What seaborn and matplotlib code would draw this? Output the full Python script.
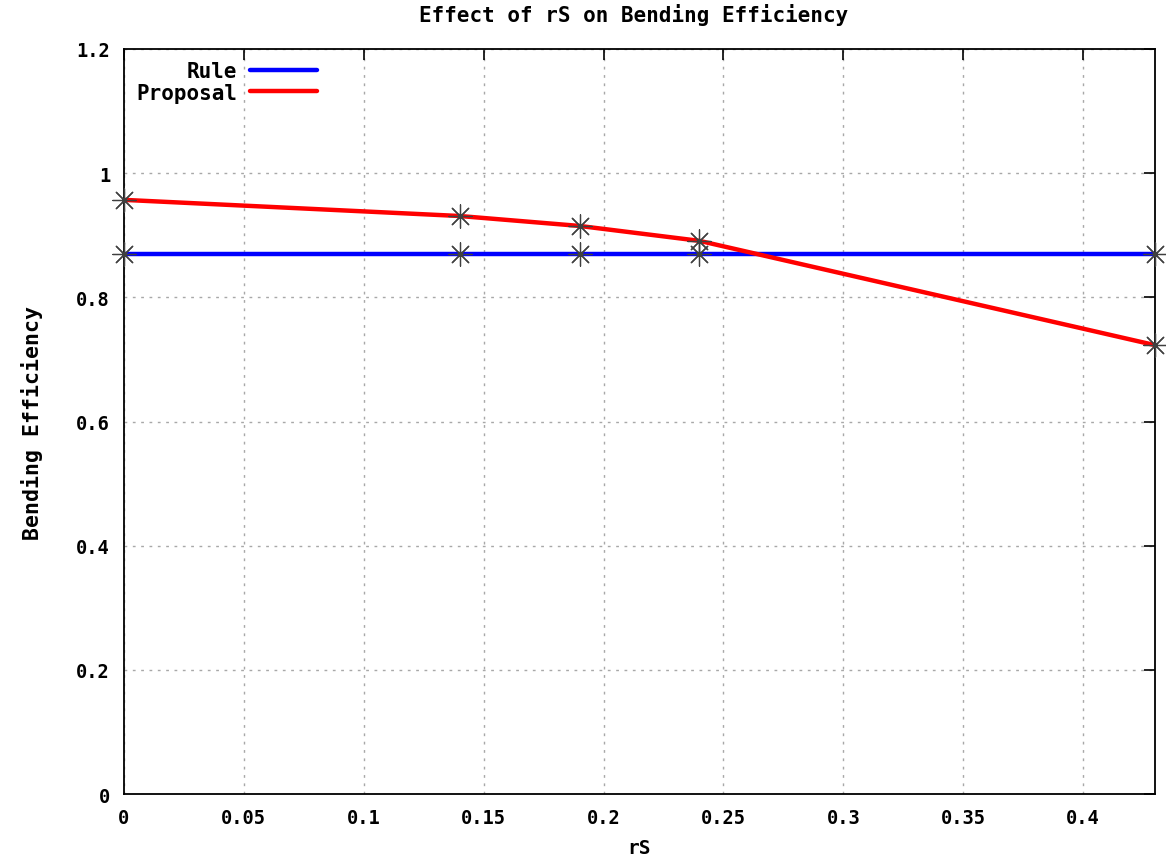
import matplotlib
matplotlib.use("Agg")
import matplotlib.pyplot as plt
import seaborn as sns
import pandas as pd

rs = [0.0, 0.14, 0.19, 0.24, 0.43]
rule = [0.870, 0.870, 0.870, 0.870, 0.870]
proposal = [0.957, 0.931, 0.915, 0.891, 0.723]
series_names = ["Rule", "Proposal"]
series_colors = ["#0000ff", "#ff0000"]
x_ticks = [0, 0.05, 0.1, 0.15, 0.2, 0.25, 0.3, 0.35, 0.4]
x_tick_labels = ["0", "0.05", "0.1", "0.15", "0.2", "0.25", "0.3", "0.35", "0.4"]
y_ticks = [0, 0.2, 0.4, 0.6, 0.8, 1.0, 1.2]
y_tick_labels = ["0", "0.2", "0.4", "0.6", "0.8", "1", "1.2"]

df = pd.DataFrame({
    "rS": rs * 2,
    "value": rule + proposal,
    "series": [series_names[0]] * len(rs) + [series_names[1]] * len(rs),
})

sns.set_style("white")
plt.rcParams["font.family"] = ["DejaVu Sans Mono"]
plt.rcParams["text.color"] = "black"
plt.rcParams["axes.labelcolor"] = "black"

fig = plt.figure(figsize=(11.66, 8.62), dpi=100)
ax = fig.add_axes([0.1063, 0.0777, 0.9906 - 0.1063, 0.942 - 0.0777])

sns.lineplot(data=df, x="rS", y="value", hue="series", palette=series_colors,
             linewidth=3.2, ax=ax, zorder=3)
sns.scatterplot(data=df, x="rS", y="value", marker=(8, 2, 0), color="#404040",
                s=280, linewidth=0.9, legend=False, ax=ax, zorder=4, clip_on=False)

ax.set_xlim(0, 0.43)
ax.set_ylim(0, 1.2)
ax.set_xticks(x_ticks)
ax.set_xticklabels(x_tick_labels)
ax.set_yticks(y_ticks)
ax.set_yticklabels(y_tick_labels)
ax.tick_params(direction="in", length=8, width=1.2, top=True, right=True,
               labelsize=13.5, pad=10, colors="black")
for lab in ax.get_xticklabels() + ax.get_yticklabels():
    lab.set_fontweight("bold")
ax.grid(True, linestyle=(0, (2, 4)), color="#a8a8a8", linewidth=1.0)
for s in ax.spines.values():
    s.set_visible(True)
    s.set_color("black")
    s.set_linewidth(1.3)

ax.set_title("Effect of rS on Bending Efficiency", fontsize=15, pad=20,
             fontweight="bold")
ax.title.set_position((0.494, 1.0))
ax.set_xlabel("rS", fontsize=14, labelpad=8, fontweight="bold")
ax.set_ylabel("Bending Efficiency", fontsize=15.5, labelpad=24, fontweight="bold")

leg = ax.legend(loc="upper left", bbox_to_anchor=(0.0, 1.0), frameon=False,
                markerfirst=False, handlelength=3.2,
                handletextpad=0.6, borderaxespad=0.2, labelspacing=0.05,
                prop={"weight": "bold", "size": 15})
leg._legend_box.align = "right"

fig.savefig("out.png", dpi=100)
